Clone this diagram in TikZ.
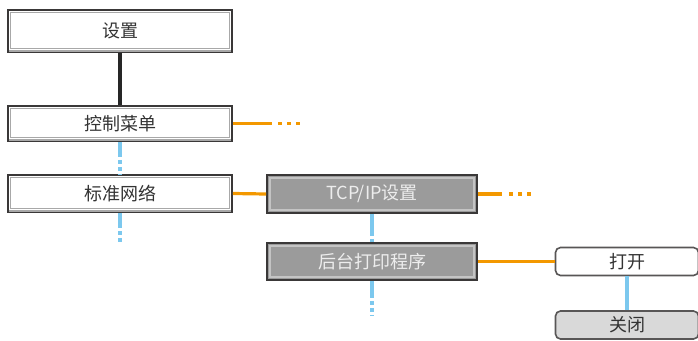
\documentclass[tikz,border=0pt]{standalone}
\usepackage{fontspec}
\newfontfamily\cjk{Noto Sans CJK SC}
\definecolor{dk}{HTML}{3A3838}
\definecolor{bev}{HTML}{A8A8A8}
\definecolor{gfill}{HTML}{9B9B9B}
\definecolor{ginner}{HTML}{C4C4C4}
\definecolor{lfill}{HTML}{D9D9D9}
\definecolor{org}{HTML}{F39800}
\definecolor{sky}{HTML}{7CC8EE}
\definecolor{txt}{HTML}{333333}
\begin{document}
\begin{tikzpicture}[x=1pt,y=-1pt,
  wbox/.style={draw=dk, line width=1.8pt, fill=white, inner sep=0pt, font=\cjk\fontsize{18}{18}\selectfont, text=txt},
  gbox/.style={draw=dk, line width=1.8pt, fill=gfill, inner sep=0pt, font=\cjk\fontsize{18}{18}\selectfont, text=white!93!black},
  rbox/.style={draw=dk!85, line width=1.6pt, rounded corners=5pt, inner sep=0pt, font=\cjk\fontsize{18}{18}\selectfont, text=txt, minimum width=143pt, minimum height=28pt},
  oline/.style={draw=org, line width=3.2pt},
  odots/.style={draw=org, line width=3.2pt, dash pattern=on 4pt off 5pt},
  bline/.style={draw=sky, line width=3.2pt},
  bdash/.style={draw=sky, line width=3.2pt, dash pattern=on 15pt off 3pt on 4pt off 3pt on 4pt off 3pt on 4pt off 3pt},
  inw/.style={draw=bev, line width=1.3pt},
  ing/.style={draw=ginner, line width=1.3pt}]
\useasboundingbox (0,0) rectangle (698,340);

\node[wbox, minimum width=224pt, minimum height=42pt] (set) at (120,31) {设置};
\node[wbox, minimum width=224pt, minimum height=35pt] (menu) at (120,123.5) {控制菜单};
\node[wbox, minimum width=224pt, minimum height=37pt] (net) at (120,193.5) {标准网络};
\node[gbox, minimum width=210pt, minimum height=38pt] (tcp) at (372,194) {TCP/IP设置};
\node[gbox, minimum width=210pt, minimum height=37pt] (spool) at (372,261.5) {后台打印程序};
\node[rbox, fill=white] (on) at (627,261.5) {打开};
\node[rbox, fill=lfill] (off) at (627,325) {关闭};

% inner bevel lines
\foreach \n in {set,menu,net}{
  \draw[inw] ([shift={(3.5pt,-3.5pt)}]\n.north west) rectangle ([shift={(-3.5pt,4.5pt)}]\n.south east);
  \draw[draw=bev, line width=2.4pt] ([shift={(1.5pt,2.2pt)}]\n.south west) -- ([shift={(-1.5pt,2.2pt)}]\n.south east);
}
\foreach \n in {tcp,spool}{
  \draw[ing] ([shift={(4pt,-4pt)}]\n.north west) rectangle ([shift={(-4pt,4pt)}]\n.south east);
}

% connectors
\draw[draw=black!85, line width=3.2pt] (set.south) -- (menu.north);
\draw[bdash] (menu.south) -- (net.north);
\coordinate (netdown) at (120,242);
\draw[bdash] (net.south) -- (netdown);
\draw[bdash, dash pattern=on 22pt off 3pt on 4pt off 3pt on 4pt off 3pt] (tcp.south) -- (spool.north);
\coordinate (spdown) at (372,316);
\draw[bdash, dash pattern=on 17pt off 3pt on 4pt off 3pt on 4pt off 3pt on 4pt off 3pt] (spool.south) -- (spdown);
\draw[bline] (on.south) -- (off.north);

\coordinate (m1) at (272,123.5);
\coordinate (m2) at (278,123.5);
\coordinate (m3) at (302,123.5);
\draw[oline] (menu.east) -- (m1);
\draw[odots] (m2) -- (m3);

\draw[oline] (net.east) -- (tcp.west);

\coordinate (t1) at (502,194);
\coordinate (t2) at (509,194);
\coordinate (t3) at (533,194);
\draw[oline] (tcp.east) -- (t1);
\draw[odots] (t2) -- (t3);

\draw[oline] (spool.east) -- (on.west);
\end{tikzpicture}
\end{document}
